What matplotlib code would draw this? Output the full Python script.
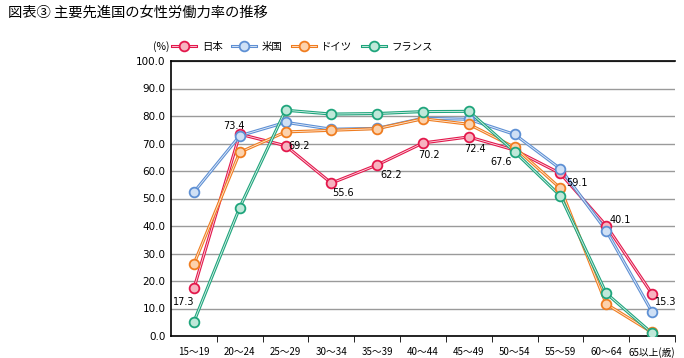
import matplotlib
matplotlib.use('Agg')
import matplotlib.pyplot as plt
import numpy as np
from matplotlib.legend_handler import HandlerTuple

plt.rcParams['font.family'] = ['Noto Sans CJK JP', 'DejaVu Sans']

# %% Data
age_labels = ['15～19', '20～24', '25～29', '30～34', '35～39', '40～44',
              '45～49', '50～54', '55～59', '60～64', '65以上(歳)']
japan   = [17.3, 73.4, 69.2, 55.6, 62.2, 70.2, 72.4, 67.6, 59.1, 40.1, 15.3]
usa     = [52.3, 72.8, 77.7, 75.2, 75.5, 79.2, 78.8, 73.3, 60.8, 38.3, 8.7]
germany = [26.2, 66.8, 74.2, 74.8, 75.4, 79.0, 77.0, 68.6, 53.7, 11.6, 1.3]
france  = [5.2, 46.7, 82.1, 80.7, 80.9, 81.6, 81.7, 67.0, 50.9, 15.5, 1.0]

series = [
    ('日本',     japan,   '#e3184c', '#f7b3c0'),
    ('米国',     usa,     '#5e90d4', '#cfe0f5'),
    ('ドイツ',   germany, '#f07d20', '#fcd2ad'),
    ('フランス', france,  '#1fa57c', '#bfe8d9'),
]

# label offsets (px) for the Japan values
jp_offsets = [(-10, -14), (-6, 8), (14, 0), (12, -10), (14, -10), (6, -12),
              (6, -12), (-14, -12), (16, -10), (14, 6), (14, -8)]

# %% Plot
fig = plt.figure(figsize=(6.84, 3.58), dpi=100)
ax = fig.add_axes([171 / 684, 1 - 336 / 358, 504 / 684, 275 / 358])
x = np.arange(len(age_labels))

handles = []
for name, vals, col, light in series:
    l1, = ax.plot(x, vals, color=col, lw=2.2, zorder=3)
    l2, = ax.plot(x, vals, color='white', lw=0.6, alpha=0.85, zorder=3)
    m, = ax.plot(x, vals, ls='none', marker='o', ms=7, mfc=light, mec=col,
                 mew=1.3, zorder=4)
    handles.append((l1, l2, m))

for xi, v, (dx, dy) in zip(x, japan, jp_offsets):
    ax.annotate(f'{v:.1f}', (xi, v), xytext=(dx, dy), textcoords='offset pixels',
                ha='center', va='center', fontsize=7, family='DejaVu Sans', zorder=5)

ax.set_xlim(-0.5, len(age_labels) - 0.5)
ax.set_ylim(0, 100)
ax.set_yticks(np.arange(0, 101, 10))
ax.set_yticklabels([f'{v:.1f}' for v in np.arange(0, 101, 10)], family='DejaVu Sans')
ax.set_xticks(x)
ax.set_xticklabels(age_labels)
ax.set_xticks(np.arange(0.5, len(age_labels), 1), minor=True)
ax.tick_params(axis='x', which='major', length=0, pad=8, labelsize=7)
ax.tick_params(axis='x', which='minor', length=4, direction='out')
ax.tick_params(axis='y', length=0, pad=4, labelsize=7.5)
ax.grid(axis='y', color='#9a9a9a', lw=1.0)
ax.set_axisbelow(True)
ax.spines['right'].set_visible(False)
for s in ['left', 'bottom', 'top']:
    ax.spines[s].set_color('black')
    ax.spines[s].set_linewidth(1.2)

fig.text(8 / 684, 1 - 13 / 358, '図表③ 主要先進国の女性労働力率の推移', fontsize=10.3,
         va='center', ha='left')
fig.text(170 / 684, 1 - 47 / 358, '(%)', fontsize=7.5, va='center', ha='right')
fig.legend(handles, [s[0] for s in series],
           handler_map={tuple: HandlerTuple(ndivide=1)},
           loc='center left', bbox_to_anchor=(172 / 684, 1 - 47 / 358),
           ncol=4, frameon=False, fontsize=7.5, handlelength=2.3,
           handletextpad=0.55, columnspacing=0.9, borderpad=0, borderaxespad=0)

fig.savefig('out.png', dpi=100)
